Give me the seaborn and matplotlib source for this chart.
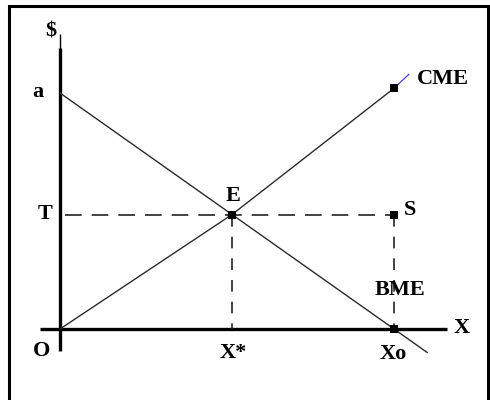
import matplotlib
matplotlib.use("Agg")
import matplotlib.pyplot as plt
from matplotlib.patches import Rectangle
import seaborn as sns
import pandas as pd

# economic diagram values (data units)
a_val = 10.0
x_star = 5.15
t_val = 4.85
x_zero = 10.0

demand_x = [0.0, 11.0]
demand_y = [10.0, -1.0]

cme_x = [0.0, 5.15, 10.0]
cme_y = [0.0, 4.85, 10.2]
cme_tail_x = [10.0, 10.45]
cme_tail_y = [10.2, 10.8]

point_names = ["E", "S", "CME", "Xo"]
point_x = [5.15, 10.0, 10.0, 10.0]
point_y = [4.85, 4.85, 10.2, 0.0]

sns.set_style("white")
plt.rcParams['font.family'] = ['Liberation Serif', 'DejaVu Serif']

fig = plt.figure(figsize=(4.9, 4.0), dpi=100)
ax = fig.add_axes([0, 0, 1, 1])
ax.set_xlim(-60 / 33.4, 430 / 33.4)
ax.set_ylim(-71 / 23.6, 329 / 23.6)
ax.axis("off")

# frame
fig.patches.append(Rectangle((9 / 490, -0.02), 479 / 490, 1.005,
                             transform=fig.transFigure, fill=False,
                             edgecolor="black", linewidth=2.2))

# axes
ax.plot([0, 0], [-0.93, 11.9], color="black", lw=2.4, solid_capstyle="butt")
ax.plot([0, 0], [11.8, 12.5], color="black", lw=1.0, solid_capstyle="butt")
ax.plot([-0.6, 11.6], [0, 0], color="black", lw=2.4, solid_capstyle="butt")

# curves
sns.lineplot(x=demand_x, y=demand_y, ax=ax, color="#2a2a2a", lw=1.0,
             sort=False, estimator=None)
sns.lineplot(x=cme_x, y=cme_y, ax=ax, color="#2a2a2a", lw=1.0,
             sort=False, estimator=None)
sns.lineplot(x=cme_tail_x, y=cme_tail_y, ax=ax, color="#4444cc", lw=0.9,
             sort=False, estimator=None)

# dashed guides
ax.plot([0.15, x_zero], [t_val, t_val], color="#222222", lw=1.2,
        dashes=(10, 6))
ax.plot([x_star, x_star], [t_val, 0], color="#222222", lw=1.2,
        dashes=(7, 6))
ax.plot([x_zero, x_zero], [t_val, 0], color="#222222", lw=1.2,
        dashes=(7, 6))

pts = pd.DataFrame({"name": point_names, "x": point_x, "y": point_y})
sns.scatterplot(data=pts, x="x", y="y", ax=ax, marker="s", s=36,
                color="black", edgecolor="black", linewidth=0, zorder=5)

txt = dict(fontsize=16, fontweight="bold", ha="center", va="center",
           color="black", textcoords="offset pixels")
ax.annotate("$", (0, 12.5), xytext=(-9, 2), **txt)
ax.annotate("a", (0, a_val), xytext=(-22, 1), **txt)
ax.annotate("T", (0, t_val), xytext=(-15, 1), **txt)
ax.annotate("O", (0, 0), xytext=(-18, -22), **txt)
ax.annotate("E", (x_star, t_val), xytext=(1, 19), **txt)
ax.annotate("X*", (x_star, 0), xytext=(1, -24), **txt)
ax.annotate("Xo", (x_zero, 0), xytext=(-1, -25), **txt)
ax.annotate("BME", (x_zero, 0), xytext=(6, 39), **txt)
ax.annotate("S", (x_zero, t_val), xytext=(16, 5), **txt)
ax.annotate("CME", (10.0, 10.2), xytext=(49, 9), **txt)
ax.annotate("X", (11.6, 0), xytext=(14, 1), **txt)

fig.savefig("out.png", dpi=100)
